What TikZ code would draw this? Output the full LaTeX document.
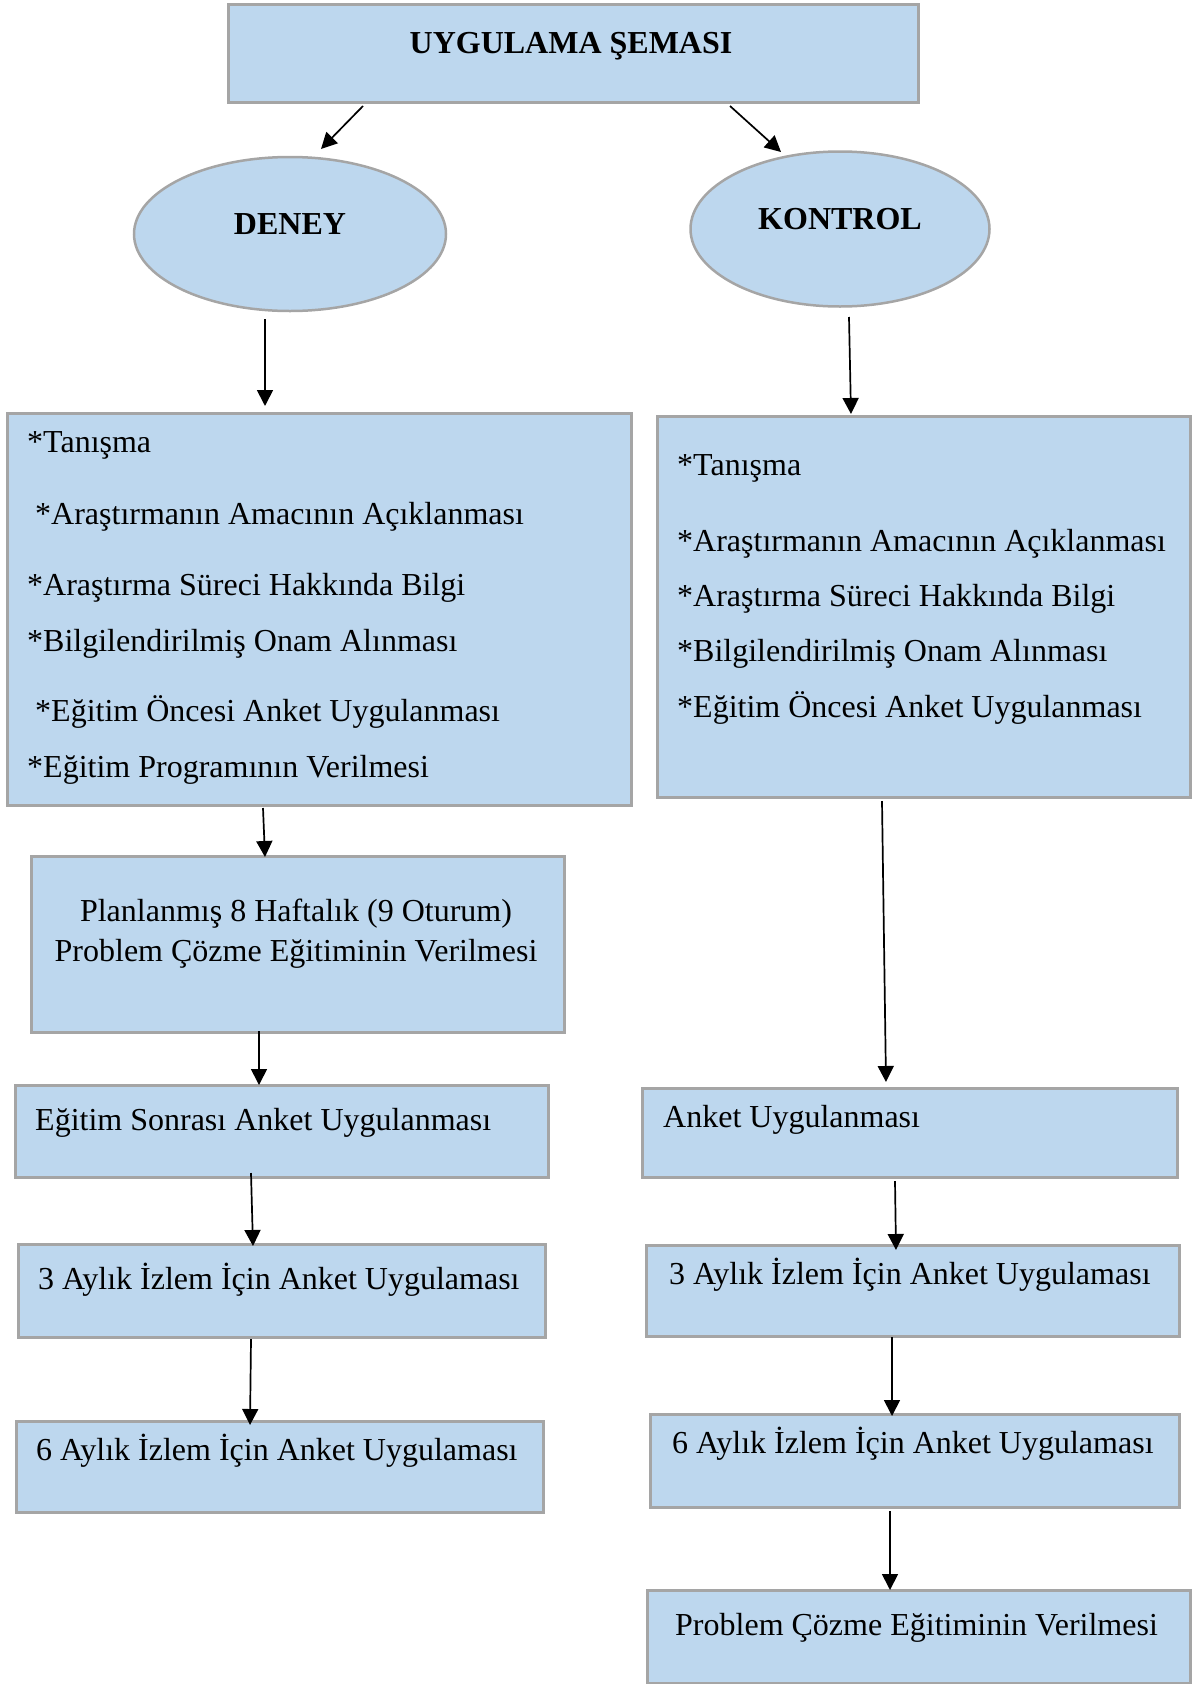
\documentclass[tikz,border=0pt]{standalone}
\usepackage{fontspec}
\setmainfont{Liberation Serif}
\usetikzlibrary{shapes.geometric,arrows.meta}
\definecolor{boxfill}{HTML}{BDD7EE}
\definecolor{boxline}{HTML}{A5A5A5}
\tikzset{
  box/.style={draw=boxline, fill=boxfill, line width=2.5pt, rectangle, inner sep=0pt, anchor=north west},
  ell/.style={draw=boxline, fill=boxfill, line width=2.5pt, ellipse, inner sep=0pt},
  txt/.style={font=\fontsize{32}{38}\selectfont, inner sep=0pt, anchor=base west},
  ctxt/.style={font=\fontsize{32}{38}\selectfont, inner sep=0pt, anchor=base},
  btxt/.style={font=\fontsize{32}{38}\selectfont\bfseries, inner sep=0pt, anchor=base},
  arr/.style={-{Triangle[length=16pt,width=16pt]}, line width=1.7pt, black}
}
\begin{document}
\begin{tikzpicture}[x=1pt,y=-1pt]
\useasboundingbox (0,0) rectangle (1192,1684);
% title
\node[box, minimum width=690pt, minimum height=98pt] (title) at (227,3) {};
\node[btxt] (titletxt) at (571,53) {UYGULAMA ŞEMASI};
% ellipses
\node[ell, minimum width=312pt, minimum height=154pt] (deney) at (290,234) {};
\node[btxt] (deneytxt) at (290,234) {DENEY};
\node[ell, minimum width=299pt, minimum height=155pt] (kontrol) at (840,229) {};
\node[btxt] (kontroltxt) at (840,229) {KONTROL};
% left column
\node[box, minimum width=624pt, minimum height=392pt] (lbig) at (6,412) {};
\node[txt] (l1) at (27,452) {*Tanışma};
\node[txt] (l2) at (27,524) {\ *Araştırmanın Amacının Açıklanması};
\node[txt] (l3) at (27,595) {*Araştırma Süreci Hakkında Bilgi};
\node[txt] (l4) at (27,651) {*Bilgilendirilmiş Onam Alınması};
\node[txt] (l5) at (27,721) {\ *Eğitim Öncesi Anket Uygulanması};
\node[txt] (l6) at (27,777) {*Eğitim Programının Verilmesi};
\node[box, minimum width=533pt, minimum height=176pt] (plan) at (30,855) {};
\node[ctxt] (plan1) at (296,921) {Planlanmış 8 Haftalık (9 Oturum)};
\node[ctxt] (plan2) at (296,961) {Problem Çözme Eğitiminin Verilmesi};
\node[box, minimum width=533pt, minimum height=92pt] (lsonra) at (14,1084) {};
\node[txt] (lsonratxt) at (35,1130) {Eğitim Sonrası Anket Uygulanması};
\node[box, minimum width=527pt, minimum height=93pt] (l3ay) at (17,1243) {};
\node[txt] (l3aytxt) at (38,1289) {3 Aylık İzlem İçin Anket Uygulaması};
\node[box, minimum width=527pt, minimum height=91pt] (l6ay) at (15,1420) {};
\node[txt] (l6aytxt) at (36,1460) {6 Aylık İzlem İçin Anket Uygulaması};
% right column
\node[box, minimum width=533pt, minimum height=381pt] (rbig) at (656,415) {};
\node[txt] (r1) at (677,475) {*Tanışma};
\node[txt] (r2) at (677,551) {*Araştırmanın Amacının Açıklanması};
\node[txt] (r3) at (677,606) {*Araştırma Süreci Hakkında Bilgi};
\node[txt] (r4) at (677,661) {*Bilgilendirilmiş Onam Alınması};
\node[txt] (r5) at (677,717) {*Eğitim Öncesi Anket Uygulanması};
\node[box, minimum width=535pt, minimum height=89pt] (ranket) at (641,1087) {};
\node[txt] (ranketxt) at (663,1127) {Anket Uygulanması};
\node[box, minimum width=533pt, minimum height=91pt] (r3ay) at (645,1244) {};
\node[txt] (r3aytxt) at (669,1284) {3 Aylık İzlem İçin Anket Uygulaması};
\node[box, minimum width=529pt, minimum height=93pt] (r6ay) at (649,1413) {};
\node[txt] (r6aytxt) at (672,1453) {6 Aylık İzlem İçin Anket Uygulaması};
\node[box, minimum width=543pt, minimum height=93pt] (rprob) at (646,1589) {};
\node[txt] (rprobtxt) at (675,1635) {Problem Çözme Eğitiminin Verilmesi};
% connector ends
\coordinate (a1s) at (363,106); \coordinate (a1e) at (321,149);
\coordinate (a2s) at (730,106); \coordinate (a2e) at (781,152);
\coordinate (a3s) at (265,319); \coordinate (a3e) at (265,406);
\coordinate (a4s) at (849,317); \coordinate (a4e) at (851,414);
\coordinate (a5s) at (263,808); \coordinate (a5e) at (265,857);
\coordinate (a6s) at (259,1031); \coordinate (a6e) at (259,1085);
\coordinate (a7s) at (251,1173); \coordinate (a7e) at (253,1246);
\coordinate (a8s) at (251,1339); \coordinate (a8e) at (250,1425);
\coordinate (b1s) at (882,801); \coordinate (b1e) at (886,1082);
\coordinate (b2s) at (895,1181); \coordinate (b2e) at (896,1250);
\coordinate (b3s) at (892,1337); \coordinate (b3e) at (892,1416);
\coordinate (b4s) at (890,1511); \coordinate (b4e) at (890,1590);
\draw[arr] (a1s) -- (a1e);
\draw[arr] (a2s) -- (a2e);
\draw[arr] (a3s) -- (a3e);
\draw[arr] (a4s) -- (a4e);
\draw[arr] (a5s) -- (a5e);
\draw[arr] (a6s) -- (a6e);
\draw[arr] (a7s) -- (a7e);
\draw[arr] (a8s) -- (a8e);
\draw[arr] (b1s) -- (b1e);
\draw[arr] (b2s) -- (b2e);
\draw[arr] (b3s) -- (b3e);
\draw[arr] (b4s) -- (b4e);
\end{tikzpicture}
\end{document}
